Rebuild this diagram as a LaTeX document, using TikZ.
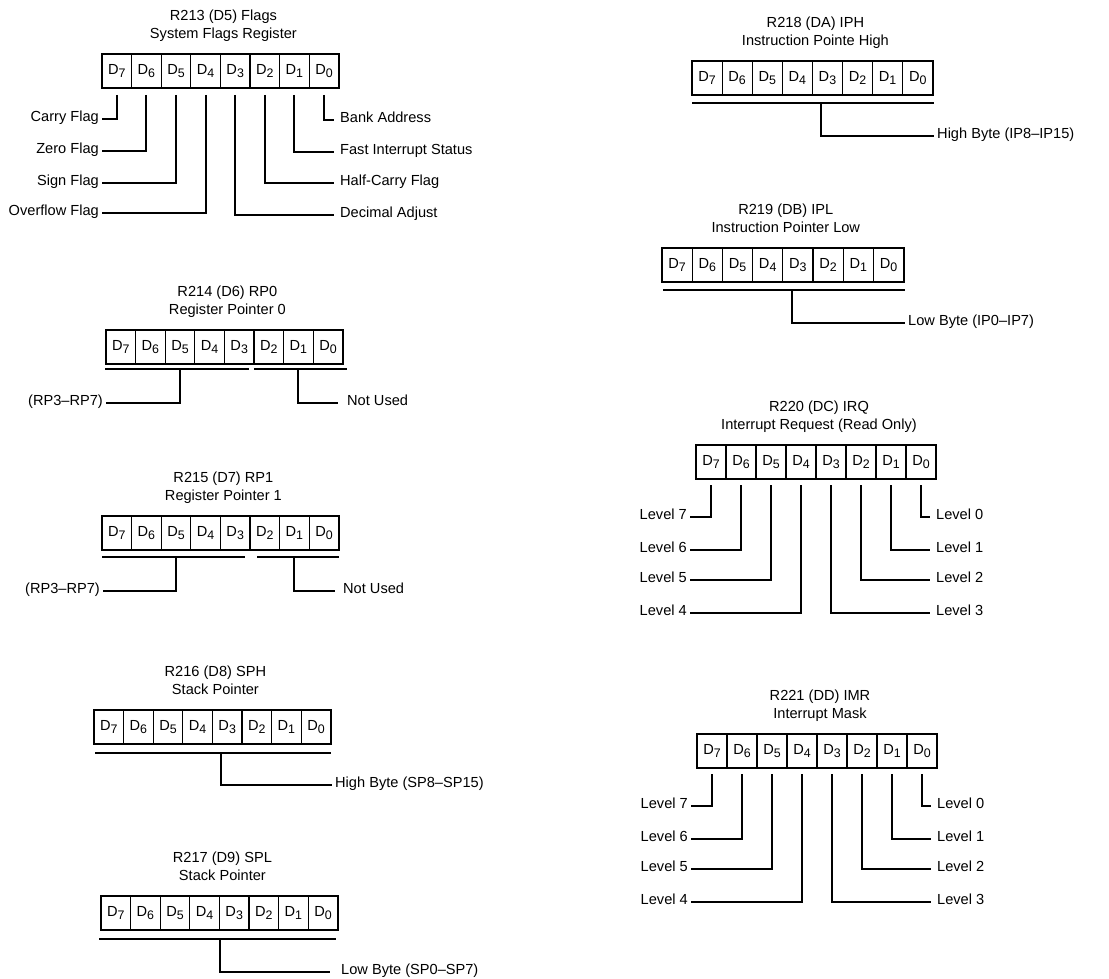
\documentclass[tikz,border=0pt]{standalone}
\usepackage{fontspec}
\setmainfont{Liberation Sans}
\usetikzlibrary{positioning, calc}

\newcommand{\regfont}{\fontsize{14.6}{17}\selectfont}
\newcommand{\bitname}[1]{D\raisebox{-2.6pt}{\fontsize{12.4}{12}\selectfont #1}}

\tikzset{
  bitcell/.style={draw, line width=1.2pt, minimum width=#1pt, minimum height=34pt,
    inner sep=0pt, outer sep=0pt, font=\regfont, anchor=west},
  regframe/.style={line width=2pt},
  wire/.style={line width=2pt},
  regtitle/.style={font=\regfont, anchor=base, inner sep=0pt},
  lbl/.style={font=\regfont, inner sep=3pt},
}

% name, left, top, cell width, title, subtitle
\newcommand{\register}[6]{%
  \foreach \bitno in {7,...,0}{
    \node[bitcell=#4] (#1-\bitno) at ({#2+(7-\bitno)*#4},{#3+17}) {\bitname{\bitno}};
  }
  \draw[regframe] (#1-7.north west) rectangle (#1-0.south east);
  \node[regtitle] (#1-sub) at ($(#1-7.north west)!0.5!(#1-0.north east)+(3,-15.5)$) {#6};
  \node[regtitle] (#1-title) at ($(#1-sub.base)+(0,-18)$) {#5};
}

\begin{document}
\begin{tikzpicture}[x=1pt, y=-1pt]
  \useasboundingbox (0,0) rectangle (1109,979);

  % R213 flags
  \register{f}{102}{54}{29.6}{R213 (D5) Flags}{System Flags Register}
  \foreach \bt/\dy/\txt in {7/31/Carry Flag, 6/63/Zero Flag, 5/95/Sign Flag, 4/125/Overflow Flag}{
    \node[lbl, anchor=mid east] (f-l\bt) at (102,{88+\dy}) {\txt};
    \draw[wire] ([yshift=-7]f-\bt.south) |- (f-l\bt.mid east);
  }
  \foreach \bt/\dy/\txt in {0/32/Bank Address, 1/64/Fast Interrupt Status, 2/95/Half-Carry Flag, 3/127/Decimal Adjust}{
    \node[lbl, anchor=mid west] (f-l\bt) at (337,{88+\dy}) {\txt};
    \draw[wire] ([yshift=-7]f-\bt.south) |- ([xshift=-3]f-l\bt.mid west);
  }

  % R214 RP0
  \register{p0}{106}{330}{29.6}{R214 (D6) RP0}{Register Pointer 0}
  \coordinate (p0-la) at ([xshift=-1,yshift=-5]p0-7.south west);
  \coordinate (p0-lb) at ([xshift=-5,yshift=-5]p0-3.south east);
  \coordinate (p0-ra) at ([yshift=-5]p0-2.south west);
  \coordinate (p0-rb) at ([xshift=4,yshift=-5]p0-0.south east);
  \draw[wire] (p0-la) -- (p0-lb);
  \draw[wire] (p0-ra) -- (p0-rb);
  \node[lbl, anchor=mid east] (p0-hi) at (106,403) {(RP3–RP7)};
  \node[lbl, anchor=mid west] (p0-nu) at (344,403) {Not Used};
  \draw[wire] (p0-5.south |- p0-la) |- (p0-hi.mid east);
  \draw[wire] (p0-1.south |- p0-ra) |- ([xshift=-6]p0-nu.mid west);

  % R215 RP1
  \register{p1}{102}{516}{29.6}{R215 (D7) RP1}{Register Pointer 1}
  \coordinate (p1-la) at ([yshift=-7]p1-7.south west);
  \coordinate (p1-lb) at ([xshift=-5,yshift=-7]p1-3.south east);
  \coordinate (p1-ra) at ([xshift=7,yshift=-7]p1-2.south west);
  \coordinate (p1-rb) at ([yshift=-7]p1-0.south east);
  \draw[wire] (p1-la) -- (p1-lb);
  \draw[wire] (p1-ra) -- (p1-rb);
  \node[lbl, anchor=mid east] (p1-hi) at (103,591) {(RP3–RP7)};
  \node[lbl, anchor=mid west] (p1-nu) at (340,591) {Not Used};
  \draw[wire] (p1-5.south |- p1-la) |- (p1-hi.mid east);
  \draw[wire] (p1-1.south |- p1-ra) |- ([xshift=-5]p1-nu.mid west);

  % R216 SPH
  \register{s1}{94}{710}{29.6}{R216 (D8) SPH}{Stack Pointer}
  \coordinate (s1-la) at ([xshift=1,yshift=-9]s1-7.south west);
  \coordinate (s1-rb) at ([yshift=-9]s1-0.south east);
  \draw[wire] (s1-la) -- (s1-rb);
  \node[lbl, anchor=mid west] (s1-hb) at (332,785) {High Byte (SP8–SP15)};
  \draw[wire] ([xshift=-6]s1-3.south |- s1-la) |- (s1-hb.mid west);

  % R217 SPL
  \register{s0}{101}{896}{29.6}{R217 (D9) SPL}{Stack Pointer}
  \coordinate (s0-la) at ([xshift=-2,yshift=-9]s0-7.south west);
  \coordinate (s0-rb) at ([xshift=-2,yshift=-9]s0-0.south east);
  \draw[wire] (s0-la) -- (s0-rb);
  \node[lbl, anchor=mid west] (s0-lb) at (338,972) {Low Byte (SP0–SP7)};
  \draw[wire] ([xshift=1]s0-3.south west |- s0-la) |- ([xshift=-8]s0-lb.mid west);

  % R218 IPH
  \register{ih}{692}{61}{30.1}{R218 (DA) IPH}{Instruction Pointe High}
  \coordinate (ih-la) at ([yshift=-8]ih-7.south west);
  \coordinate (ih-rb) at ([xshift=1,yshift=-8]ih-0.south east);
  \draw[wire] (ih-la) -- (ih-rb);
  \node[lbl, anchor=mid west] (ih-hb) at (934,136) {High Byte (IP8–IP15)};
  \draw[wire] ([xshift=-6]ih-3.south |- ih-la) |- (ih-hb.mid west);

  % R219 IPL
  \register{il}{662}{248}{30.2}{R219 (DB) IPL}{Instruction Pointer Low}
  \coordinate (il-la) at ([xshift=1,yshift=-8]il-7.south west);
  \coordinate (il-rb) at ([xshift=1,yshift=-8]il-0.south east);
  \draw[wire] (il-la) -- (il-rb);
  \node[lbl, anchor=mid west] (il-lb) at (905,323) {Low Byte (IP0–IP7)};
  \draw[wire] ([xshift=-6]il-3.south |- il-la) |- (il-lb.mid west);

  % R220 IRQ
  \register{rq}{696}{445}{30}{R220 (DC) IRQ}{Interrupt Request (Read Only)}
  \foreach \lv/\dy in {7/38, 6/71, 5/101, 4/134}{
    \node[lbl, anchor=mid east] (rq-l\lv) at (690,{479+\dy}) {Level \lv};
    \draw[wire] ([yshift=-6]rq-\lv.south) |- (rq-l\lv.mid east);
  }
  \foreach \lv/\dy in {0/38, 1/71, 2/101, 3/134}{
    \node[lbl, anchor=mid west] (rq-l\lv) at (933,{479+\dy}) {Level \lv};
    \draw[wire] ([yshift=-6]rq-\lv.south) |- ([xshift=-3]rq-l\lv.mid west);
  }

  % R221 IMR
  \register{im}{697}{734}{30}{R221 (DD) IMR}{Interrupt Mask}
  \foreach \lv/\dy in {7/38, 6/71, 5/101, 4/134}{
    \node[lbl, anchor=mid east] (im-l\lv) at (691,{768+\dy}) {Level \lv};
    \draw[wire] ([yshift=-6]im-\lv.south) |- (im-l\lv.mid east);
  }
  \foreach \lv/\dy in {0/38, 1/71, 2/101, 3/134}{
    \node[lbl, anchor=mid west] (im-l\lv) at (934,{768+\dy}) {Level \lv};
    \draw[wire] ([yshift=-6]im-\lv.south) |- ([xshift=-3]im-l\lv.mid west);
  }
\end{tikzpicture}
\end{document}
